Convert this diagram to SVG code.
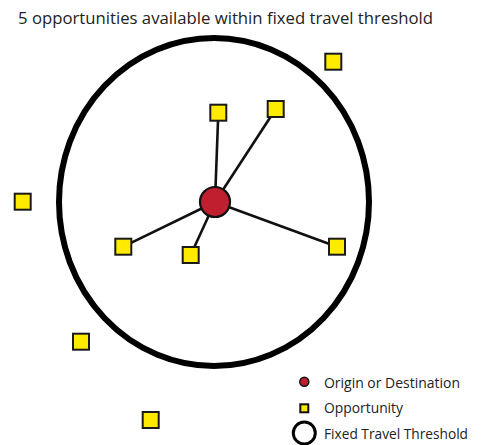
<svg xmlns="http://www.w3.org/2000/svg" width="485" height="445" viewBox="0 0 485 445">
<style>
text{font-family:"Open Sans","Noto Sans","Liberation Sans",sans-serif;fill:#222}
.opp{fill:#ffeb00;stroke:#1a1a1a;stroke-width:2}
.link{stroke:#111;stroke-width:2.6;fill:none}
.od{fill:#c01f30;stroke:#111;stroke-width:2.2}
</style>
<rect width="485" height="445" fill="#fff"/>
<text x="18" y="24" font-size="16" textLength="415" lengthAdjust="spacingAndGlyphs">5 opportunities available within fixed travel threshold</text>
<g id="threshold"><ellipse cx="214" cy="202" rx="155" ry="164" fill="none" stroke="#000" stroke-width="6"/></g>
<g id="connectors">
<line class="link" x1="215" y1="202" x2="218.3" y2="112.7"/>
<line class="link" x1="215" y1="202" x2="275.7" y2="109"/>
<line class="link" x1="215" y1="202" x2="123.3" y2="246.7"/>
<line class="link" x1="215" y1="202" x2="190.7" y2="255"/>
<line class="link" x1="215" y1="202" x2="337" y2="246.7"/>
</g>
<g id="origin"><circle class="od" cx="215" cy="202" r="15"/></g>
<g id="opp1"><rect class="opp" x="325.3" y="53.7" width="16" height="16"/></g>
<g id="opp2"><rect class="opp" x="210.3" y="104.7" width="16" height="16"/></g>
<g id="opp3"><rect class="opp" x="267.7" y="101" width="16" height="16"/></g>
<g id="opp4"><rect class="opp" x="14.7" y="193.7" width="16" height="16"/></g>
<g id="opp5"><rect class="opp" x="115.3" y="238.7" width="16" height="16"/></g>
<g id="opp6"><rect class="opp" x="182.7" y="247" width="16" height="16"/></g>
<g id="opp7"><rect class="opp" x="329" y="238.7" width="16" height="16"/></g>
<g id="opp8"><rect class="opp" x="73" y="333.7" width="16" height="16"/></g>
<g id="opp9"><rect class="opp" x="142.7" y="412" width="16" height="16"/></g>
<g id="legend">
<circle cx="304.3" cy="381.7" r="4.5" fill="#c01f30" stroke="#111" stroke-width="1.5"/>
<text x="324" y="388" font-size="14" textLength="136" lengthAdjust="spacingAndGlyphs">Origin or Destination</text>
<rect x="300.3" y="404.3" width="8" height="8" fill="#ffeb00" stroke="#111" stroke-width="2"/>
<text x="324" y="413" font-size="14" textLength="79" lengthAdjust="spacingAndGlyphs">Opportunity</text>
<circle cx="304.3" cy="433" r="11" fill="#fff" stroke="#000" stroke-width="3"/>
<text x="324" y="438.5" font-size="14" textLength="144" lengthAdjust="spacingAndGlyphs">Fixed Travel Threshold</text>
</g>
</svg>
